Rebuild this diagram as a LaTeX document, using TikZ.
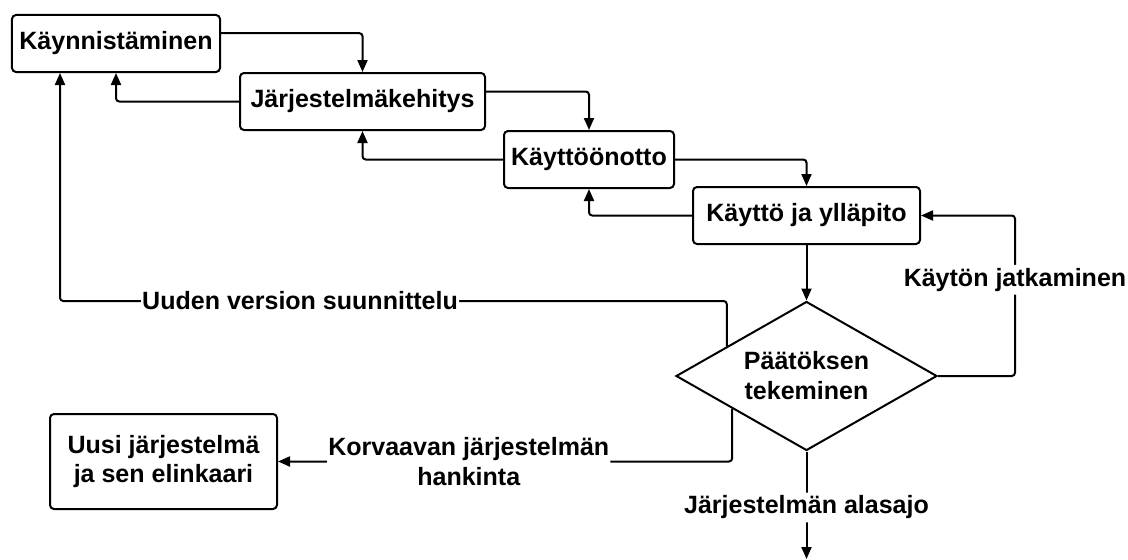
\documentclass[tikz,border=0pt]{standalone}
\usepackage{fontspec}
\setmainfont{Liberation Sans}
\usepackage{tikz}
\usetikzlibrary{shapes, arrows.meta, positioning, calc}
\tikzstyle{stage} = [rectangle, rounded corners=0.1cm, minimum height=1.425cm, draw=black, line width=0.5mm, fill=white, align=center, font=\bfseries\fontsize{17.8}{21.3}\selectfont]
\tikzstyle{decision} = [diamond, aspect=1.75, minimum width=6.525cm, minimum height=3.725cm, inner sep=0pt, draw=black, line width=0.5mm, fill=white, align=center, font=\bfseries\fontsize{17.8}{21.3}\selectfont]
\tikzstyle{lbl} = [fill=white, inner xsep=0.03cm, inner ysep=0.08cm, align=center, font=\bfseries\fontsize{17.8}{21.3}\selectfont]
\tikzstyle{flow} = [-{Triangle[length=0.3cm,width=0.25cm]}, line width=0.5mm, rounded corners=0.08cm]

\begin{document}
\begin{tikzpicture}[node distance=1.45cm]
\useasboundingbox (0,0) rectangle (28.2,-14);
\node (stage1) [stage, minimum width=5.2cm] at (2.9,-1.0875) {Käynnistäminen};
\node (stage2) [stage, minimum width=6.125cm, below of=stage1, xshift=6.1625cm] {Järjestelmäkehitys};
\node (stage3) [stage, minimum width=4.25cm, below of=stage2, xshift=5.6625cm] {Käyttöönotto};
\node (stage4) [stage, minimum width=5.675cm, below of=stage3, xshift=5.4375cm, yshift=0.05cm] {Käyttö ja ylläpito};
\node (dec1) [decision, below of=stage4, yshift=-2.5625cm] {Päätöksen\\tekeminen};
\node (new1) [stage, minimum width=5.675cm, minimum height=2.375cm, below of=dec1, xshift=-16.075cm, yshift=-0.6875cm] {Uusi järjestelmä\\ja sen elinkaari};
\coordinate (loop1) at ([xshift=1.925cm]dec1.east);
\coordinate (up1) at ($(dec1.west)!0.394!(dec1.north)$);
\coordinate (turn1) at (1.5,-7.525);
\coordinate (dn1) at ($(dec1.west)!0.435!(dec1.south)$);
\coordinate (end1) at ([yshift=-2.6875cm]dec1.south);
\draw[flow] ([yshift=0.26cm]stage1.east) -| (stage2.north);
\draw[flow] ([yshift=0.25cm]stage2.east) -| (stage3.north);
\draw[flow] (stage3.east) -| (stage4.north);
\draw[flow] (stage2.west) -| (stage1.south);
\draw[flow] (stage3.west) -| (stage2.south);
\draw[flow] (stage4.west) -| (stage3.south);
\draw[flow] (stage4.south) -- (dec1.north);
\draw[flow] (dec1.east) -- (loop1) -- node[lbl, pos=0.6] {Käytön jatkaminen} (loop1 |- stage4.east) -- (stage4.east);
\draw[flow] (up1) |- node[lbl, pos=0.82] {Uuden version suunnittelu} (turn1) -- ([xshift=-1.4cm]stage1.south);
\draw[flow] (dn1) |- node[lbl, pos=0.79] {Korvaavan järjestelmän\\hankinta} (new1.east);
\draw[flow] (dec1.south) -- node[lbl, pos=0.52] {Järjestelmän alasajo} (end1);
\end{tikzpicture}
\end{document}
